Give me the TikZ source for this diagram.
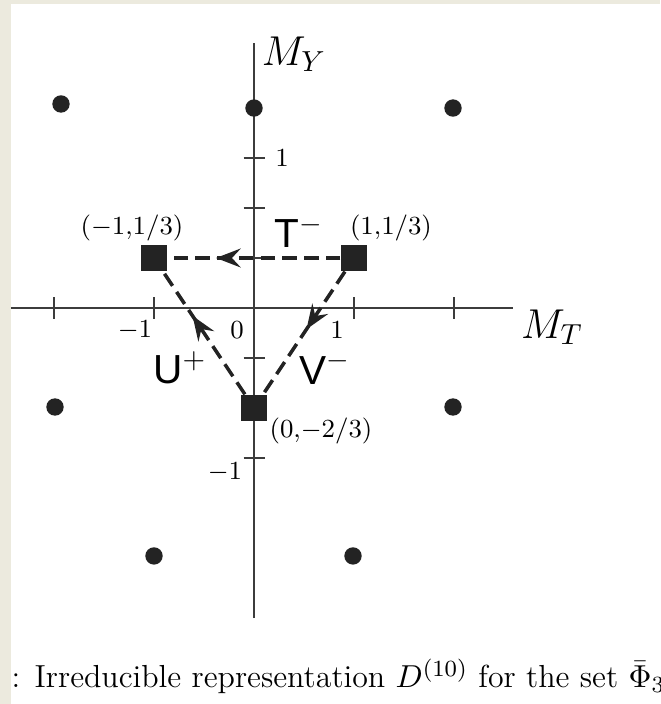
\documentclass[tikz,border=0pt]{standalone}
\usepackage{fontspec}
\newfontfamily\labelsans{Liberation Sans}
\usetikzlibrary{arrows.meta,decorations.markings}
\definecolor{pagebeige}{RGB}{236,234,222}
\definecolor{ink}{RGB}{35,35,35}
\definecolor{axisgray}{RGB}{60,60,60}
\begin{document}
\begin{tikzpicture}[x=34.5pt,y=51.75pt,every node/.style={font=\fontsize{9.2}{11}\selectfont},
  weight/.style={circle,fill=ink,inner sep=0pt,minimum size=6pt},
  corner/.style={rectangle,fill=ink,inner sep=0pt,minimum size=9pt},
  ladder/.style={line width=1.2pt,ink,dash pattern=on 5pt off 2.5pt,postaction={decorate},
    decoration={markings,mark=at position #1 with {\arrow{Stealth[length=8.5pt,width=6.5pt,inset=3pt]}}}},
  axis/.style={line width=0.7pt,axisgray},
  axislabel/.style={font=\fontsize{14.4}{17}\selectfont},
  oplabel/.style={font=\fontsize{14}{16}\selectfont\labelsans}]
% page background
\clip (-2.54,-2.64) rectangle (4.06,2.0533);
\fill[pagebeige] (-2.54,-2.64) rectangle (4.06,2.0533);
\fill[white] (-2.43,-2.64) rectangle (4.06,2.0267);
% axes and ticks
\draw[axis] (-2.43,0) -- (2.59,0);
\draw[axis] (0,-2.067) -- (0,1.767);
\foreach \t in {-2,-1,1,2} \draw[axis] (\t,-0.073) -- (\t,0.073);
\foreach \t in {1,2/3,1/3,-1/3,-2/3,-1} \draw[axis] (-0.105,\t) -- (0.105,\t);
\node at (-1.19,-0.147) {$-1$};
\node at (-0.17,-0.147) {$0$};
\node at (0.83,-0.147) {$1$};
\node at (0.28,1) {$1$};
\node at (-0.29,-1.093) {$-1$};
\node[axislabel] (my) at (0.40,1.693) {$M_Y$};
\node[axislabel] (mt) at (2.98,-0.127) {$M_T$};
% weights of the decuplet
\node[weight] (w1) at (-1.93,1.36) {};
\node[weight] (w2) at (0,1.333) {};
\node[weight] (w3) at (1.99,1.333) {};
\node[weight] (w4) at (-1.99,-0.66) {};
\node[weight] (w5) at (1.99,-0.66) {};
\node[weight] (w6) at (-1,-1.653) {};
\node[weight] (w7) at (0.99,-1.653) {};
% the triplet and its shift operators
\node[corner] (sL) at (-1,1/3) {};
\node[corner] (sR) at (1,1/3) {};
\node[corner] (sB) at (0,-2/3) {};
\draw[ladder=0.72] (sR) -- (sL);
\draw[ladder=0.64] (sB) -- (sL);
\draw[ladder=0.47] (sR) -- (sB);
\node at (-1.22,0.533) {$(-1{,}1/3)$};
\node at (1.37,0.533) {$(1{,}1/3)$};
\node at (0.67,-0.82) {$(0{,}{-}2/3)$};
\node[oplabel] at (0.45,0.51) {T$^-$};
\node[oplabel] at (-0.74,-0.40) {U$^+$};
\node[oplabel] at (0.71,-0.40) {V$^-$};
% caption
\node[anchor=base west,inner sep=0pt,font=\fontsize{11}{13}\selectfont] (cap) at (-2.43,-2.533)
  {:\hspace{5pt}Irreducible representation $D^{(10)}$ for the set $\bar{\Phi}_3$};
\end{tikzpicture}
\end{document}
